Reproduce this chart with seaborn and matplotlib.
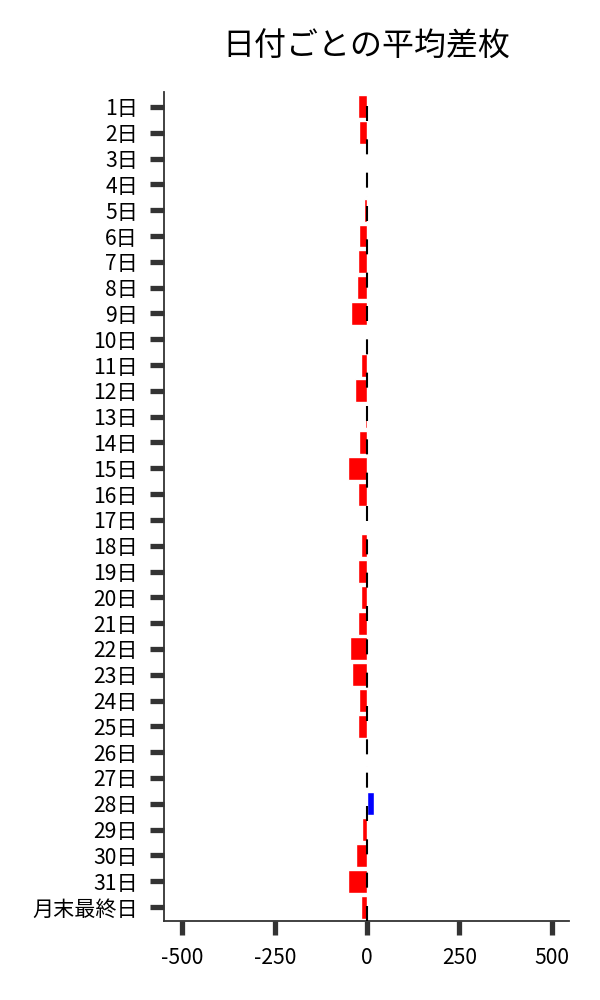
import matplotlib
matplotlib.use('Agg')
import matplotlib.pyplot as plt
import seaborn as sns
import pandas as pd

# 日付ごとの平均差枚
days = [f"{i}日" for i in range(1, 32)] + ["月末最終日"]
avg_diff = [-25, -23, -1, -4, -7, -22, -24, -27, -43, -3,
            -15, -33, -6, -22, -52, -24, -2, -15, -24, -15,
            -24, -46, -41, -22, -24, -1, -3, 20, -14, -31,
            -52, -16]
xticks = [-500, -250, 0, 250, 500]

df = pd.DataFrame({'day': days, 'diff': avg_diff})
colors = ['blue' if v > 0 else 'red' for v in df['diff']]

sns.set_style("ticks")
plt.rcParams['font.family'] = ['Noto Sans CJK JP', 'DejaVu Sans']

fig = plt.figure(figsize=(6, 10), dpi=100)
ax = fig.add_axes([0.2733, 0.0793, 0.6755, 0.8287])

sns.barplot(data=df, y='day', x='diff', hue='day', palette=colors,
            legend=False, width=0.89, saturation=1, ax=ax, orient='h')
ax.axvline(0, color='black', linestyle=(0, (7.2, 8.8)), linewidth=1.5, zorder=3)

ax.set_xlim(-550, 548)
ax.set_ylim(31.53, -0.58)
ax.set_xticks(xticks)
ax.set_xticklabels([str(t) for t in xticks])
ax.set_xlabel("")
ax.set_ylabel("")
ax.set_title("日付ごとの平均差枚", fontsize=23, pad=26, color='black')

ax.tick_params(axis='both', length=10.4, width=3.8, color='#333333',
               labelsize=15.2, labelcolor='black', pad=8.3)
for s in ['left', 'bottom']:
    ax.spines[s].set_color('#333333')
    ax.spines[s].set_linewidth(1.3)
sns.despine(ax=ax)

plt.savefig('out.png', dpi=100)
